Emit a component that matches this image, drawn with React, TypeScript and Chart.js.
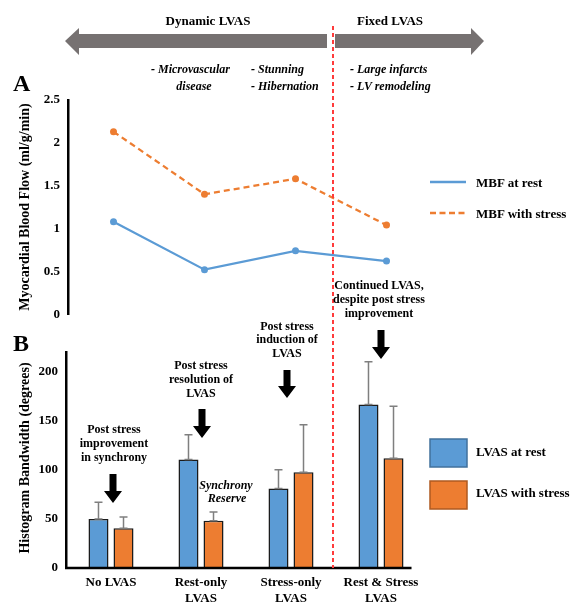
import React, { useEffect, useRef } from "react";
import { Chart, registerables } from "chart.js";
Chart.register(...registerables);

const FONT = "'Liberation Serif', 'Times New Roman', serif";

// Panel A – myocardial blood flow
const mbfCategories = ["No LVAS", "Rest-only LVAS", "Stress-only LVAS", "Rest & Stress LVAS"];
const mbfRest = [1.08, 0.52, 0.74, 0.62];
const mbfStress = [2.13, 1.4, 1.58, 1.04];
const mbfTicks = [0, 0.5, 1, 1.5, 2, 2.5];

// Panel B – histogram bandwidth
const hbCategories = [["No LVAS"], ["Rest-only", "LVAS"], ["Stress-only", "LVAS"], ["Rest & Stress", "LVAS"]];
const hbRest = [50, 110.6, 81, 166.5];
const hbStress = [40.5, 48, 97.5, 111.7];
const hbRestErr = [17, 25, 19, 43.5];
const hbStressErr = [11.5, 9, 48.5, 53];
const hbTicks = [0, 50, 100, 150, 200];

const BLUE = "#5B9BD5";
const ORANGE = "#ED7D31";

const errorBarPlugin = {
  id: "errorBars",
  afterDatasetsDraw(chart: any) {
    const ctx = chart.ctx;
    const y = chart.scales.y;
    const errs = [hbRestErr, hbStressErr];
    chart.data.datasets.forEach((ds: any, di: number) => {
      const meta = chart.getDatasetMeta(di);
      meta.data.forEach((bar: any, i: number) => {
        const v = ds.data[i];
        const base = y.getPixelForValue(v);
        const top = y.getPixelForValue(v + errs[di][i]);
        ctx.save();
        ctx.strokeStyle = "#7f7f7f";
        ctx.lineWidth = 1.5;
        ctx.beginPath();
        ctx.moveTo(bar.x, base);
        ctx.lineTo(bar.x, top);
        ctx.moveTo(bar.x - 4, top);
        ctx.lineTo(bar.x + 4, top);
        ctx.moveTo(bar.x - 4, base);
        ctx.lineTo(bar.x + 4, base);
        ctx.stroke();
        ctx.restore();
      });
    });
  },
};

const xAxisLinePlugin = {
  id: "xAxisLine",
  afterDatasetsDraw(chart: any) {
    const ctx = chart.ctx;
    const area = chart.chartArea;
    const last = chart.getDatasetMeta(chart.data.datasets.length - 1).data;
    const lb = last[last.length - 1];
    const right = lb.x + lb.width / 2 + 8;
    ctx.save();
    ctx.strokeStyle = "#000";
    ctx.lineWidth = 2.5;
    ctx.beginPath();
    ctx.moveTo(area.left - 1, area.bottom);
    ctx.lineTo(right, area.bottom);
    ctx.stroke();
    ctx.restore();
  },
};

function Arrow({ x, top, tip }: { x: number; top: number; tip: number }) {
  const hb = tip - 12;
  const pts = [
    [x - 3.5, top],
    [x + 3.5, top],
    [x + 3.5, hb],
    [x + 9, hb],
    [x, tip],
    [x - 9, hb],
    [x - 3.5, hb],
  ]
    .map((p) => p.join(","))
    .join(" ");
  return <polygon points={pts} fill="#000" />;
}

export default function App() {
  const refA = useRef<HTMLCanvasElement>(null);
  const refB = useRef<HTMLCanvasElement>(null);

  useEffect(() => {
    const tickFont = { family: FONT, size: 13, weight: "bold" as const };
    const chartA = new Chart(refA.current!, {
      type: "line",
      data: {
        labels: mbfCategories,
        datasets: [
          {
            label: "MBF at rest",
            data: mbfRest,
            borderColor: BLUE,
            backgroundColor: BLUE,
            pointBackgroundColor: BLUE,
            pointBorderWidth: 0,
            pointRadius: 3.5,
            borderWidth: 2.25,
            tension: 0,
          },
          {
            label: "MBF with stress",
            data: mbfStress,
            borderColor: ORANGE,
            backgroundColor: ORANGE,
            pointBackgroundColor: ORANGE,
            pointBorderWidth: 0,
            pointRadius: 3.5,
            borderWidth: 2.25,
            borderDash: [6, 4],
            tension: 0,
          },
        ],
      },
      options: {
        animation: false,
        responsive: false,
        maintainAspectRatio: false,
        layout: { padding: { left: 0, top: 100, right: 138, bottom: 15 } },
        plugins: { legend: { display: false }, tooltip: { enabled: false } },
        scales: {
          x: { display: false, offset: true },
          y: {
            min: 0,
            max: 2.5,
            afterFit: (s: any) => {
              s.width = 68;
            },
            afterBuildTicks: (s: any) => {
              s.ticks = mbfTicks.map((v) => ({ value: v }));
            },
            grid: { display: false, drawTicks: false },
            border: { display: true, color: "#000", width: 2.5 },
            ticks: {
              color: "#000",
              padding: 8,
              font: tickFont,
              callback: (v: any) => String(Number(v)),
            },
          },
        },
      },
    });

    const chartB = new Chart(refB.current!, {
      type: "bar",
      data: {
        labels: hbCategories as any,
        datasets: [
          {
            label: "LVAS at rest",
            data: hbRest,
            backgroundColor: BLUE,
            borderColor: "#1a1a1a",
            borderWidth: 1.5,
            categoryPercentage: 0.556,
            barPercentage: 0.8,
          },
          {
            label: "LVAS with stress",
            data: hbStress,
            backgroundColor: ORANGE,
            borderColor: "#1a1a1a",
            borderWidth: 1.5,
            categoryPercentage: 0.556,
            barPercentage: 0.8,
          },
        ],
      },
      options: {
        animation: false,
        responsive: false,
        maintainAspectRatio: false,
        layout: { padding: { left: 0, top: 22, right: 144, bottom: 0 } },
        plugins: { legend: { display: false }, tooltip: { enabled: false } },
        scales: {
          x: {
            afterFit: (s: any) => {
              s.height = 36;
            },
            grid: { display: false, drawTicks: false },
            border: { display: false },
            ticks: { color: "#000", padding: 7, font: tickFont, maxRotation: 0, autoSkip: false },
          },
          y: {
            min: 0,
            max: 220,
            afterFit: (s: any) => {
              s.width = 66;
            },
            afterBuildTicks: (s: any) => {
              s.ticks = hbTicks.map((v) => ({ value: v }));
            },
            grid: { display: false, drawTicks: false },
            border: { display: true, color: "#000", width: 2.5 },
            ticks: { color: "#000", padding: 8, font: tickFont },
          },
        },
      },
      plugins: [errorBarPlugin, xAxisLinePlugin],
    });

    return () => {
      chartA.destroy();
      chartB.destroy();
    };
  }, []);

  const bold = { fontFamily: FONT, fontWeight: "bold" } as const;
  const t12 = { ...bold, fontSize: 12 };
  const it12 = { ...t12, fontStyle: "italic" } as const;

  return (
    <div
      style={{
        position: "absolute",
        left: 0,
        top: 0,
        width: 570,
        height: 604,
        overflow: "hidden",
        background: "#fff",
      }}
    >
      <canvas ref={refA} width={570} height={330} style={{ position: "absolute", left: 0, top: 0 }} />
      <canvas ref={refB} width={570} height={274} style={{ position: "absolute", left: 0, top: 330 }} />
      <svg
        width={570}
        height={604}
        style={{ position: "absolute", left: 0, top: 0, pointerEvents: "none" }}
      >
        {/* top gray arrows */}
        <polygon points="65,41 79,28 79,34 327,34 327,48 79,48 79,55" fill="#767171" />
        <polygon points="335,34 471,34 471,28 484,41 471,55 471,48 335,48" fill="#767171" />
        <text x={208} y={20} textAnchor="middle" dominantBaseline="central" style={{ ...bold, fontSize: 13 }}>
          Dynamic LVAS
        </text>
        <text x={390} y={20} textAnchor="middle" dominantBaseline="central" style={{ ...bold, fontSize: 13 }}>
          Fixed LVAS
        </text>
        <text x={151} y={69} dominantBaseline="central" style={it12}>- Microvascular</text>
        <text x={194} y={86} textAnchor="middle" dominantBaseline="central" style={it12}>disease</text>
        <text x={251} y={69} dominantBaseline="central" style={it12}>- Stunning</text>
        <text x={251} y={86} dominantBaseline="central" style={it12}>- Hibernation</text>
        <text x={350} y={69} dominantBaseline="central" style={it12}>- Large infarcts</text>
        <text x={350} y={86} dominantBaseline="central" style={it12}>- LV remodeling</text>

        {/* red dashed divider */}
        <line x1={333} y1={26} x2={333} y2={568} stroke="#FF3B3B" strokeWidth={2} strokeDasharray="4,3" />

        {/* panel letters */}
        <text x={13} y={83} dominantBaseline="central" style={{ ...bold, fontSize: 24 }}>A</text>
        <text x={13} y={343} dominantBaseline="central" style={{ ...bold, fontSize: 24 }}>B</text>

        {/* axis titles */}
        <text
          transform="translate(24,207) rotate(-90)"
          textAnchor="middle"
          dominantBaseline="central"
          style={{ ...bold, fontSize: 14 }}
        >
          Myocardial Blood Flow (ml/g/min)
        </text>
        <text
          transform="translate(24,458) rotate(-90)"
          textAnchor="middle"
          dominantBaseline="central"
          style={{ ...bold, fontSize: 14 }}
        >
          Histogram Bandwidth (degrees)
        </text>

        {/* legend A */}
        <line x1={430} y1={182} x2={466} y2={182} stroke={BLUE} strokeWidth={2.5} />
        <text x={476} y={182} dominantBaseline="central" style={{ ...bold, fontSize: 13 }}>MBF at rest</text>
        <line x1={430} y1={213} x2={466} y2={213} stroke={ORANGE} strokeWidth={2.5} strokeDasharray="6,3.5" />
        <text x={476} y={213} dominantBaseline="central" style={{ ...bold, fontSize: 13 }}>MBF with stress</text>

        {/* legend B */}
        <rect x={430} y={439} width={37} height={28} fill={BLUE} stroke="#41719C" strokeWidth={1.5} />
        <text x={476} y={451} dominantBaseline="central" style={{ ...bold, fontSize: 13 }}>LVAS at rest</text>
        <rect x={430} y={481} width={37} height={28} fill={ORANGE} stroke="#AE5A21" strokeWidth={1.5} />
        <text x={476} y={492} dominantBaseline="central" style={{ ...bold, fontSize: 13 }}>LVAS with stress</text>

        {/* annotations panel B */}
        <text x={114} y={429} textAnchor="middle" dominantBaseline="central" style={t12}>Post stress</text>
        <text x={114} y={443} textAnchor="middle" dominantBaseline="central" style={t12}>improvement</text>
        <text x={114} y={457} textAnchor="middle" dominantBaseline="central" style={t12}>in synchrony</text>
        <Arrow x={113} top={474} tip={503} />

        <text x={201} y={365} textAnchor="middle" dominantBaseline="central" style={t12}>Post stress</text>
        <text x={201} y={379} textAnchor="middle" dominantBaseline="central" style={t12}>resolution of</text>
        <text x={201} y={393} textAnchor="middle" dominantBaseline="central" style={t12}>LVAS</text>
        <Arrow x={202} top={409} tip={438} />
        <text x={226} y={485} textAnchor="middle" dominantBaseline="central" style={it12}>Synchrony</text>
        <text x={227} y={498} textAnchor="middle" dominantBaseline="central" style={it12}>Reserve</text>

        <text x={287} y={326} textAnchor="middle" dominantBaseline="central" style={t12}>Post stress</text>
        <text x={287} y={339} textAnchor="middle" dominantBaseline="central" style={t12}>induction of</text>
        <text x={287} y={353} textAnchor="middle" dominantBaseline="central" style={t12}>LVAS</text>
        <Arrow x={287} top={370} tip={398} />

        <text x={379} y={285} textAnchor="middle" dominantBaseline="central" style={t12}>Continued LVAS,</text>
        <text x={379} y={299} textAnchor="middle" dominantBaseline="central" style={t12}>despite post stress</text>
        <text x={379} y={313} textAnchor="middle" dominantBaseline="central" style={t12}>improvement</text>
        <Arrow x={381} top={330} tip={359} />
      </svg>
    </div>
  );
}
